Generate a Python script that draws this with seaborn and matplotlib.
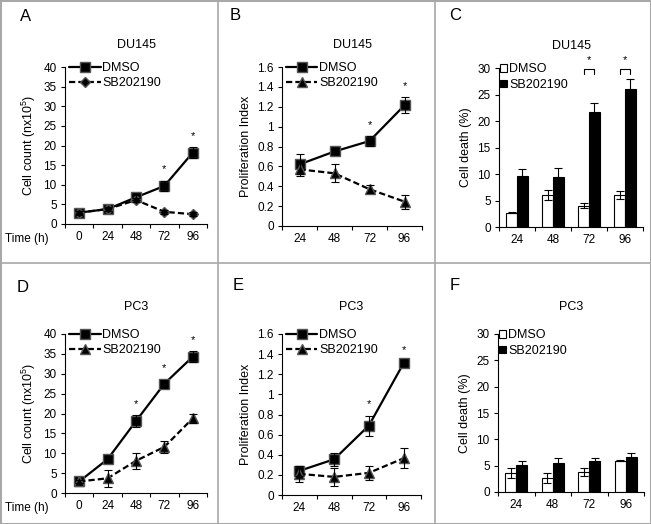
"""
DU145 / PC3 growth, proliferation and cell death under SB202190
Six panel figure (A-F): line charts with error bars and grouped bars.
"""

import matplotlib
matplotlib.use("Agg")
import matplotlib.pyplot as plt
from matplotlib.lines import Line2D
from matplotlib.ticker import FuncFormatter
import numpy as np
import pandas as pd
import seaborn as sns

sns.set_style("ticks", {
    "axes.edgecolor": "black",
    "xtick.color": "black",
    "ytick.color": "black",
    "text.color": "black",
    "axes.labelcolor": "black",
})
plt.rcParams["font.family"] = ["Liberation Sans", "DejaVu Sans"]

FIG_W, FIG_H = 651, 524

# ---------------------------------------------------------------------------
# Data
# ---------------------------------------------------------------------------
GROUPS = ["DMSO", "SB202190"]
TIMES_COUNT = ["0", "24", "48", "72", "96"]
TIMES = ["24", "48", "72", "96"]

# A - DU145 cell count (n x 10^5)
du_count_dmso = [2.9, 3.8, 6.8, 9.7, 18.2]
du_count_dmso_err = [0.5, 0.5, 0.7, 1.3, 1.3]
du_count_sb = [2.9, 3.8, 6.1, 3.1, 2.5]
du_count_sb_err = [0.4, 0.4, 0.6, 0.5, 0.5]
du_count_stars = [False, False, False, True, True]

# B - DU145 proliferation index
du_pi_dmso = [0.62, 0.75, 0.855, 1.215]
du_pi_dmso_err = [0.10, 0.03, 0.05, 0.08]
du_pi_sb = [0.57, 0.53, 0.37, 0.245]
du_pi_sb_err = [0.07, 0.09, 0.04, 0.07]
du_pi_stars = [False, False, True, True]

# C - DU145 cell death (%)
du_death_dmso = [2.7, 6.0, 4.0, 6.0]
du_death_dmso_err = [0.15, 0.9, 0.5, 0.8]
du_death_sb = [9.7, 9.5, 21.7, 26.0]
du_death_sb_err = [1.2, 1.6, 1.7, 1.9]
du_death_brackets = [False, False, True, True]

# D - PC3 cell count (n x 10^5)
pc_count_dmso = [2.9, 8.5, 18.1, 27.5, 34.3]
pc_count_dmso_err = [0.4, 0.6, 1.5, 1.0, 1.4]
pc_count_sb = [2.9, 3.7, 8.1, 11.6, 18.8]
pc_count_sb_err = [0.4, 2.1, 2.0, 1.5, 1.2]
pc_count_stars = [False, False, True, True, True]

# E - PC3 proliferation index
pc_pi_dmso = [0.24, 0.355, 0.69, 1.31]
pc_pi_dmso_err = [0.05, 0.065, 0.10, 0.02]
pc_pi_sb = [0.21, 0.18, 0.22, 0.365]
pc_pi_sb_err = [0.08, 0.09, 0.07, 0.10]
pc_pi_stars = [False, False, True, True]

# F - PC3 cell death (%)
pc_death_dmso = [3.6, 2.7, 3.85, 5.95]
pc_death_dmso_err = [0.95, 0.95, 0.75, 0.15]
pc_death_sb = [5.1, 5.6, 5.9, 6.7]
pc_death_sb_err = [0.8, 0.8, 0.5, 0.8]
pc_death_brackets = [False, False, False, False]

COUNT_LABEL = r"Cell count (nx10$\mathregular{^5}$)"
PI_LABEL = "Proliferation Index"
DEATH_LABEL = "Cell death (%)"

BRACKET_TOP = 29.8
BRACKET_LEG = 1.0

TICK_FS = 8.5
TEXT_FS = 9
TITLE_FS = 9


def px_rect(left, top, right, bottom):
    return [left / FIG_W, 1 - bottom / FIG_H, (right - left) / FIG_W, (bottom - top) / FIG_H]


def style_axes(ax, labels, ymax, ystep, ylabel, title, title_pad):
    n = len(labels)
    ax.set_xlim(-0.5, n - 0.5)
    ax.set_ylim(0, ymax)
    ax.set_yticks(np.arange(0, ymax + ystep / 2, ystep))
    ax.yaxis.set_major_formatter(FuncFormatter(lambda v, _: f"{v:g}"))
    ax.set_xticks(range(n))
    ax.set_xticklabels(labels)
    ax.set_xticks(np.arange(-0.5, n), minor=True)
    ax.tick_params(axis="x", which="major", length=0, pad=5, labelsize=TICK_FS)
    ax.tick_params(axis="x", which="minor", length=3, width=0.8, direction="out")
    ax.tick_params(axis="y", length=3, width=0.8, direction="out", pad=3,
                   labelsize=TICK_FS)
    sns.despine(ax=ax)
    for side in ("left", "bottom"):
        ax.spines[side].set_linewidth(0.8)
    ax.set_xlabel("")
    ax.set_ylabel(ylabel, fontsize=TEXT_FS, labelpad=4)
    ax.set_title(title, fontsize=TITLE_FS, pad=title_pad)


def line_panel(ax, labels, dmso, dmso_err, sb, sb_err, stars, sb_marker,
               ymax, ystep, ylabel, title, title_pad, time_label=False):
    n = len(labels)
    pos = np.arange(n)
    df = pd.DataFrame({
        "pos": np.tile(pos, 2),
        "value": dmso + sb,
        "group": np.repeat(GROUPS, n),
    })
    sns.lineplot(data=df, x="pos", y="value", style="group", style_order=GROUPS,
                 markers={"DMSO": "s", "SB202190": sb_marker},
                 dashes={"DMSO": "", "SB202190": (2.8, 1.4)},
                 color="black", linewidth=1.6, markersize=7,
                 markeredgecolor="#555555", markeredgewidth=1.0,
                 errorbar=None, legend=False, ax=ax)
    handles = list(ax.lines[:2])
    if sb_marker == "D":
        handles[1].set_markersize(5.5)

    for vals, errs in ((dmso, dmso_err), (sb, sb_err)):
        ax.errorbar(pos, vals, yerr=errs, fmt="none", ecolor="black",
                    elinewidth=0.8, capsize=3.2, capthick=0.8, zorder=4)

    for p, v, e, s in zip(pos, dmso, dmso_err, stars):
        if s:
            ax.annotate("*", (p, v + e), xytext=(0, 6), textcoords="offset points",
                        ha="center", va="baseline", fontsize=8)

    style_axes(ax, labels, ymax, ystep, ylabel, title, title_pad)
    ax.legend(handles, GROUPS, loc="upper left", bbox_to_anchor=(0.03, 1.03),
              frameon=False, borderaxespad=0, borderpad=0, fontsize=TEXT_FS,
              handlelength=2.5, handletextpad=0.15, labelspacing=0.25, numpoints=1)
    if time_label:
        ax.text(-0.42, -0.095, "Time (h)", transform=ax.transAxes,
                ha="left", va="center", fontsize=TICK_FS)


def bar_panel(ax, labels, dmso, dmso_err, sb, sb_err, brackets,
              ymax, ystep, ylabel, title, title_pad):
    n = len(labels)
    df = pd.DataFrame({
        "time": labels * 2,
        "value": dmso + sb,
        "group": np.repeat(GROUPS, n),
    })
    sns.barplot(data=df, x="time", y="value", hue="group", hue_order=GROUPS,
                order=labels, palette={"DMSO": "white", "SB202190": "black"},
                edgecolor="black", linewidth=0.8, width=0.6, errorbar=None,
                legend=False, ax=ax)
    bars = list(ax.containers[:2])

    centers = []
    for cont, errs in zip(bars, (dmso_err, sb_err)):
        xs = [b.get_x() + b.get_width() / 2 for b in cont]
        tops = [b.get_height() for b in cont]
        centers.append(xs)
        ax.errorbar(xs, tops, yerr=errs, fmt="none", ecolor="black",
                    elinewidth=0.8, capsize=3.2, capthick=0.8, zorder=4)

    for i, b in enumerate(brackets):
        if b:
            x0, x1 = centers[0][i], centers[1][i]
            ax.plot([x0, x0, x1, x1],
                    [BRACKET_TOP - BRACKET_LEG, BRACKET_TOP, BRACKET_TOP,
                     BRACKET_TOP - BRACKET_LEG],
                    color="black", lw=0.8, clip_on=False)
            ax.annotate("*", ((x0 + x1) / 2, BRACKET_TOP), xytext=(0, 4),
                        textcoords="offset points", ha="center", va="baseline",
                        fontsize=8, annotation_clip=False)

    style_axes(ax, labels, ymax, ystep, ylabel, title, title_pad)
    ax.legend(bars, GROUPS, loc="upper left", bbox_to_anchor=(0.01, 1.03),
              frameon=False, borderaxespad=0, borderpad=0, fontsize=TEXT_FS,
              handlelength=0.55, handleheight=0.55, handletextpad=0.15,
              labelspacing=0.3)


fig = plt.figure(figsize=(FIG_W / 100, FIG_H / 100), dpi=100)

ax_a = fig.add_axes(px_rect(65, 67, 207, 224))
ax_b = fig.add_axes(px_rect(282, 67, 422, 226))
ax_c = fig.add_axes(px_rect(499, 68, 643, 227))
ax_d = fig.add_axes(px_rect(65, 334, 207, 493))
ax_e = fig.add_axes(px_rect(282, 334, 421, 495))
ax_f = fig.add_axes(px_rect(498, 334, 644, 492))

line_panel(ax_a, TIMES_COUNT, du_count_dmso, du_count_dmso_err, du_count_sb,
           du_count_sb_err, du_count_stars, "D", 40, 5, COUNT_LABEL, "DU145", 14,
           time_label=True)
line_panel(ax_b, TIMES, du_pi_dmso, du_pi_dmso_err, du_pi_sb, du_pi_sb_err,
           du_pi_stars, "^", 1.6, 0.2, PI_LABEL, "DU145", 14)
bar_panel(ax_c, TIMES, du_death_dmso, du_death_dmso_err, du_death_sb,
          du_death_sb_err, du_death_brackets, 30, 5, DEATH_LABEL, "DU145", 14)
line_panel(ax_d, TIMES_COUNT, pc_count_dmso, pc_count_dmso_err, pc_count_sb,
           pc_count_sb_err, pc_count_stars, "^", 40, 5, COUNT_LABEL, "PC3", 17,
           time_label=True)
line_panel(ax_e, TIMES, pc_pi_dmso, pc_pi_dmso_err, pc_pi_sb, pc_pi_sb_err,
           pc_pi_stars, "^", 1.6, 0.2, PI_LABEL, "PC3", 17)
bar_panel(ax_f, TIMES, pc_death_dmso, pc_death_dmso_err, pc_death_sb,
          pc_death_sb_err, pc_death_brackets, 30, 5, DEATH_LABEL, "PC3", 17)

# panel letters
for letter, (x, y) in zip("ABCDEF", [(20, 21), (230, 20), (449, 20),
                                     (17, 292), (233, 290), (450, 290)]):
    fig.text(x / FIG_W, 1 - y / FIG_H, letter, fontsize=12, va="baseline")

# grey panel frame
border = "#a8a8a8"
for x in (218, 435):
    fig.add_artist(Line2D([x / FIG_W] * 2, [0, 1], transform=fig.transFigure,
                          color=border, lw=1.2))
fig.add_artist(Line2D([0, 1], [1 - 263 / FIG_H] * 2, transform=fig.transFigure,
                      color=border, lw=1.2))
fig.add_artist(plt.Rectangle((0, 0), 1, 1, transform=fig.transFigure, fill=False,
                             edgecolor=border, lw=2.2))

fig.savefig("out.png", dpi=100)
